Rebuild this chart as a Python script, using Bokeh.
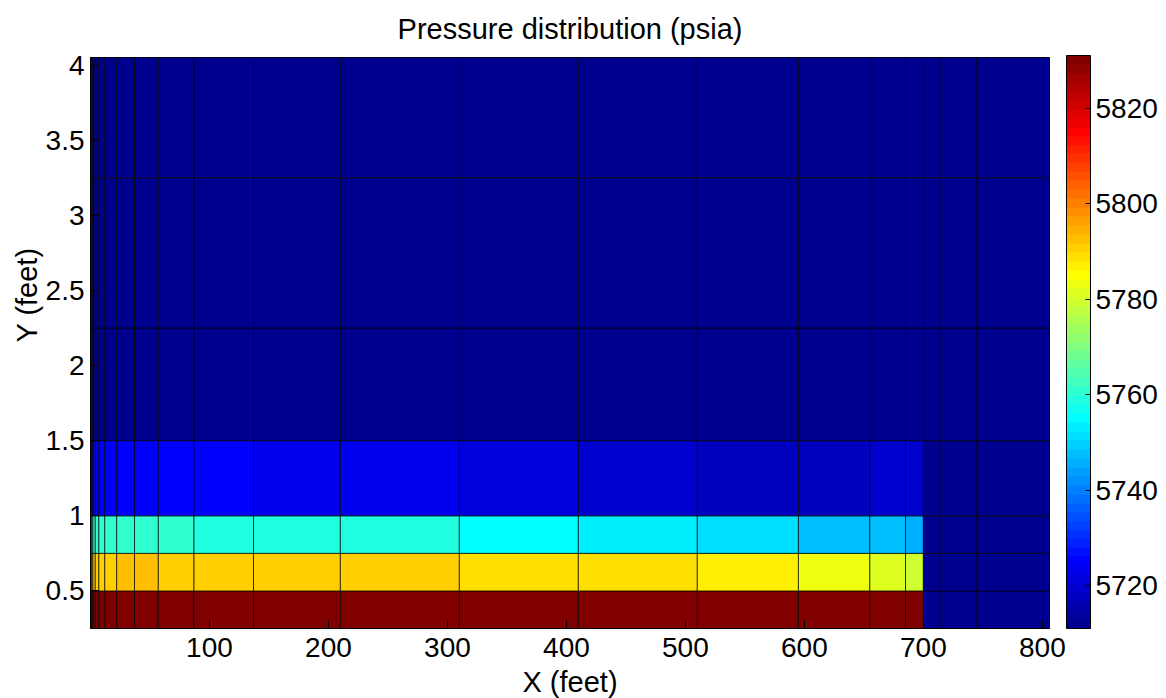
from bokeh.plotting import figure
from bokeh.models import (ColumnDataSource, LinearColorMapper, ColorBar, FixedTicker,
                          Range1d, Title)
from bokeh.embed import file_html
from bokeh.resources import INLINE

# ---------------- data ----------------
# grid block edges (feet)
x_edges = [0, 1, 2, 4, 7, 12, 22, 37, 57, 87, 137, 210, 310, 410, 510, 595, 655, 685, 700, 715, 745, 806]
y_edges = [0.25, 0.5, 0.75, 1.0, 1.5, 2.25, 3.25, 4.05]

# pressure (psia) for each layer, bottom layer first, one value per x block
p_layer1 = [5831.1, 5831.1, 5831.1, 5831.1, 5831.1, 5831.1, 5831.1, 5831.1, 5831.1, 5831.1, 5831.1,
            5831.1, 5831.1, 5831.1, 5831.1, 5831.1, 5831.1, 5831.1, 5711.0, 5711.0, 5711.0]
p_layer2 = [5790.8, 5790.8, 5790.8, 5790.8, 5790.8, 5790.8, 5792.6, 5792.6, 5790.8, 5790.8, 5790.8,
            5790.8, 5788.9, 5788.9, 5787.0, 5783.3, 5781.4, 5779.5, 5711.0, 5711.0, 5711.0]
p_layer3 = [5760.7, 5760.7, 5760.7, 5760.7, 5760.7, 5760.7, 5760.7, 5760.7, 5760.7, 5758.9, 5758.9,
            5758.9, 5755.1, 5753.2, 5751.4, 5747.6, 5747.6, 5745.7, 5711.0, 5711.0, 5711.0]
p_layer4 = [5725.1, 5725.1, 5725.1, 5725.1, 5725.1, 5725.1, 5725.1, 5725.1, 5725.1, 5725.1, 5723.2,
            5723.2, 5721.3, 5719.4, 5717.6, 5717.6, 5719.4, 5719.4, 5711.0, 5711.0, 5711.0]
p_layer5 = [5711.0, 5711.0, 5711.0, 5711.0, 5711.0, 5711.0, 5711.0, 5711.0, 5711.0, 5711.0, 5711.0,
            5711.0, 5711.0, 5711.0, 5711.0, 5711.0, 5711.0, 5711.0, 5711.0, 5711.0, 5711.0]
p_layer6 = [5711.0, 5711.0, 5711.0, 5711.0, 5711.0, 5711.0, 5711.0, 5711.0, 5711.0, 5711.0, 5711.0,
            5711.0, 5711.0, 5711.0, 5711.0, 5711.0, 5711.0, 5711.0, 5711.0, 5711.0, 5711.0]
p_layer7 = [5711.0, 5711.0, 5711.0, 5711.0, 5711.0, 5711.0, 5711.0, 5711.0, 5711.0, 5711.0, 5711.0,
            5711.0, 5711.0, 5711.0, 5711.0, 5711.0, 5711.0, 5711.0, 5711.0, 5711.0, 5711.0]
layers = [p_layer1, p_layer2, p_layer3, p_layer4, p_layer5, p_layer6, p_layer7]

x_ticks = [100, 200, 300, 400, 500, 600, 700, 800]
y_ticks = [0.5, 1, 1.5, 2, 2.5, 3, 3.5, 4]
y_tick_labels = ["0.5", "1", "1.5", "2", "2.5", "3", "3.5", "4"]
cb_ticks = [5720, 5740, 5760, 5780, 5800, 5820]

# ---------------- MATLAB jet(64) palette ----------------
def jet64():
    cols = []
    for i in range(1, 65):
        if i <= 8:
            b = (i + 8) / 16
        elif i <= 24:
            b = 1.0
        elif i <= 39:
            b = (40 - i) / 16
        else:
            b = 0.0
        if i <= 8:
            g = 0.0
        elif i <= 24:
            g = (i - 8) / 16
        elif i <= 40:
            g = 1.0
        elif i <= 55:
            g = (56 - i) / 16
        else:
            g = 0.0
        if i <= 24:
            r = 0.0
        elif i <= 40:
            r = (i - 24) / 16
        elif i <= 56:
            r = 1.0
        else:
            r = (72 - i) / 16
        cols.append("#%02x%02x%02x" % (round(r * 255), round(g * 255), round(b * 255)))
    return cols

all_p = [v for row in layers for v in row]
palette = jet64()
mapper = LinearColorMapper(palette=palette, low=min(all_p), high=max(all_p))

left, right, bottom, top, pres = [], [], [], [], []
for j, row in enumerate(layers):
    for i, v in enumerate(row):
        left.append(x_edges[i]); right.append(x_edges[i + 1])
        bottom.append(y_edges[j]); top.append(y_edges[j + 1])
        pres.append(v)
src = ColumnDataSource(dict(left=left, right=right, bottom=bottom, top=top, p=pres))

FONT = "Liberation Sans"

p = figure(frame_width=959, frame_height=571,
           x_range=Range1d(x_edges[0], x_edges[-1]), y_range=Range1d(y_edges[0], y_edges[-1]),
           output_backend="svg", toolbar_location=None,
           min_border_left=90, min_border_right=111, min_border_top=57, min_border_bottom=68,
           title="Pressure distribution (psia)")
p.title.align = "center"
p.title.vertical_align = "top"
p.title.text_font = FONT
p.title.text_font_size = "29px"
p.title.text_font_style = "normal"
p.title.text_color = "black"
p.title.standoff = 22

p.quad(left="left", right="right", bottom="bottom", top="top", source=src,
       fill_color={"field": "p", "transform": mapper}, line_color="black", line_width=0.7)

p.grid.visible = False
p.outline_line_color = "black"
p.outline_line_width = 1
p.background_fill_color = "white"

p.xaxis.ticker = FixedTicker(ticks=x_ticks)
p.yaxis.ticker = FixedTicker(ticks=y_ticks)
p.yaxis.major_label_overrides = {t: s for t, s in zip(y_ticks, y_tick_labels)}
for ax in (p.xaxis[0], p.yaxis[0]):
    ax.major_label_text_font = FONT
    ax.major_label_text_font_size = "28px"
    ax.major_label_text_color = "black"
    ax.major_tick_in = 8
    ax.major_tick_out = 0
    ax.minor_tick_in = 0
    ax.minor_tick_out = 0
    ax.axis_line_color = "black"
    ax.major_tick_line_color = "black"
    ax.major_label_standoff = 6
p.xaxis.major_label_standoff = 9
p.xaxis.axis_label = "X (feet)"
p.xaxis.axis_label_text_font = FONT
p.xaxis.axis_label_text_font_size = "29px"
p.xaxis.axis_label_text_font_style = "normal"
p.xaxis.axis_label_text_color = "black"
p.xaxis.axis_label_standoff = 6

ylab = Title(text="Y (feet)", align="left", offset=286, standoff=0,
             text_font=FONT, text_font_size="29px", text_font_style="normal",
             text_color="black")
p.add_layout(ylab, "left")

cb = ColorBar(color_mapper=mapper, ticker=FixedTicker(ticks=cb_ticks),
              location=(976, 0), width=24, height=573, padding=0, margin=0,
              label_standoff=5, major_label_text_font=FONT, major_label_text_font_size="28px",
              major_label_text_color="black",
              bar_line_color="black", major_tick_line_color="black",
              major_tick_in=5, major_tick_out=0, background_fill_alpha=0,
              border_line_color=None)
p.add_layout(cb, "center")

open("out.html", "w").write(file_html(p, INLINE))
